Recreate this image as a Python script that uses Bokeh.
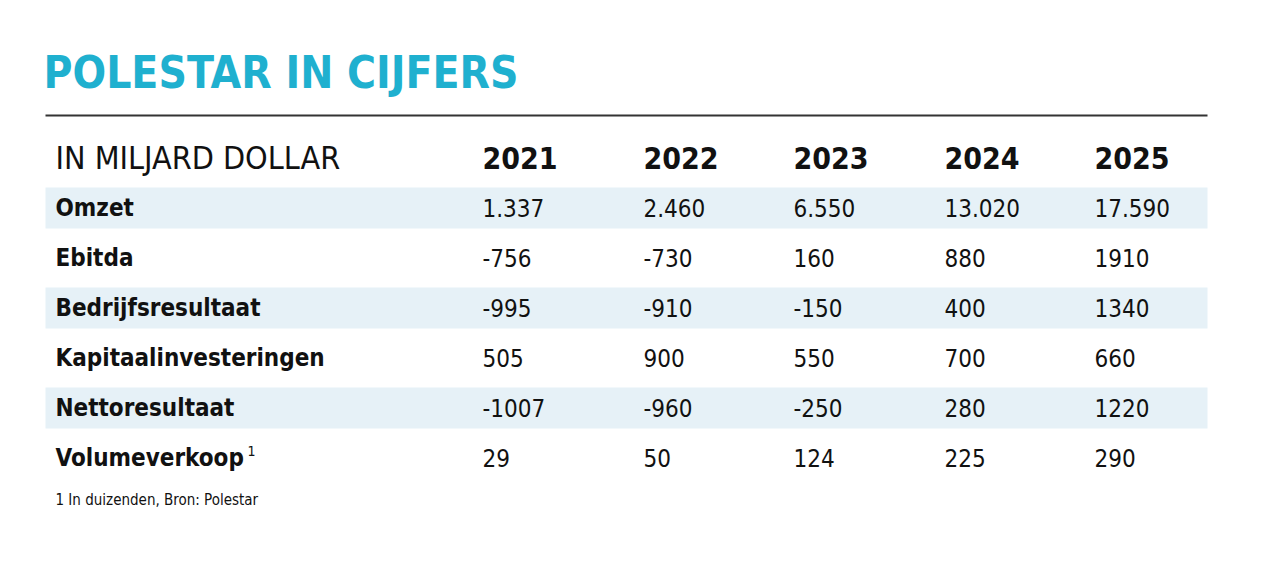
from bokeh.plotting import figure
from bokeh.models import Range1d
from bokeh.core.properties import value
from bokeh.embed import file_html
from bokeh.resources import INLINE

title = "POLESTAR IN CIJFERS"
header = "IN MILJARD DOLLAR"
years = ["2021", "2022", "2023", "2024", "2025"]
row_labels = ["Omzet", "Ebitda", "Bedrijfsresultaat", "Kapitaalinvesteringen", "Nettoresultaat", "Volumeverkoop"]
omzet = ["1.337", "2.460", "6.550", "13.020", "17.590"]
ebitda = ["-756", "-730", "160", "880", "1910"]
bedrijfsresultaat = ["-995", "-910", "-150", "400", "1340"]
kapitaalinvesteringen = ["505", "900", "550", "700", "660"]
nettoresultaat = ["-1007", "-960", "-250", "280", "1220"]
volumeverkoop = ["29", "50", "124", "225", "290"]
footnote = "1 In duizenden, Bron: Polestar"

rows = [omzet, ebitda, bedrijfsresultaat, kapitaalinvesteringen, nettoresultaat, volumeverkoop]

W, H = 1251, 552
FONT = "DejaVu Sans Condensed"
p = figure(width=W, height=H, x_range=Range1d(0, W), y_range=Range1d(H, 0),
           output_backend="svg", toolbar_location=None, min_border=0)
p.axis.visible = False
p.grid.visible = False
p.outline_line_color = None
p.background_fill_color = "white"

col_x = [482, 643, 793, 944, 1094]
left = 45
right = 1207
label_x = 55
row_y0 = 207
row_step = 50

band_rows = [0, 2, 4]
p.quad(left=[left] * 3, right=[right] * 3,
       top=[row_y0 + i * row_step - 20 for i in band_rows],
       bottom=[row_y0 + i * row_step + 21 for i in band_rows],
       fill_color="#e6f1f7", line_color=None)

p.segment(x0=[left], x1=[right], y0=[115], y1=[115], line_color="#333333", line_width=2)

p.text(x=[43], y=[72], text=[title], text_font=value(FONT), text_font_style="bold",
       text_font_size="44px", text_color="#1fb0cf", text_baseline="middle")

p.text(x=[label_x], y=[157], text=[header], text_font=value(FONT), text_font_size="32px",
       text_color="#111111", text_baseline="middle")
p.text(x=col_x, y=[157] * 5, text=years, text_font=value(FONT), text_font_style="bold",
       text_font_size="30px", text_color="#111111", text_baseline="middle")

p.text(x=[label_x] * len(row_labels), y=[row_y0 + i * row_step for i in range(len(row_labels))],
       text=row_labels, text_font=value(FONT), text_font_style="bold", text_font_size="24px",
       text_color="#111111", text_baseline="middle")
p.text(x=[247], y=[450], text=["1"], text_font=value(FONT), text_font_size="14px",
       text_color="#111111", text_baseline="middle")

xs, ys, ts = [], [], []
for i, r in enumerate(rows):
    for j, v in enumerate(r):
        xs.append(col_x[j]); ys.append(row_y0 + i * row_step); ts.append(v)
p.text(x=xs, y=ys, text=ts, text_font=value(FONT), text_font_size="24px",
       text_color="#111111", text_baseline="middle")

p.text(x=[label_x], y=[499], text=[footnote], text_font=value(FONT), text_font_size="15px",
       text_color="#111111", text_baseline="middle")

open("out.html", "w").write(file_html(p, INLINE))
